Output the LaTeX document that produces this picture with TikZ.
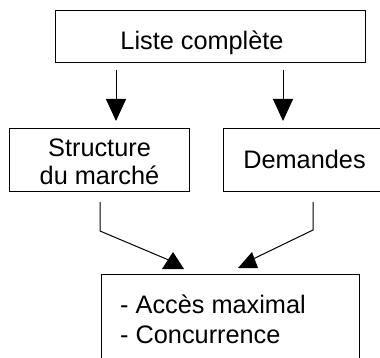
\documentclass[tikz,border=0pt]{standalone}
\usepackage{fontspec}
\setmainfont{Liberation Sans}
\usetikzlibrary{arrows.meta}
\begin{document}
\begin{tikzpicture}[x=1pt,y=-1pt,
  box/.style={draw=black,line width=1pt,rectangle,inner sep=0pt,anchor=north west},
  txt/.style={font=\fontsize{25.3}{28}\selectfont,inner sep=0pt},
  conn/.style={line width=1pt},
  arr/.style={conn,-{Triangle[width=20pt,length=22pt]}},
  head/.style={fill=black}]
\useasboundingbox (0,0) rectangle (380,358);
\fill[white] (0,0) rectangle (380,358);
% boxes
\node[box,minimum width=310pt,minimum height=52pt] (top) at (55,10) {};
\node[box,minimum width=180pt,minimum height=63pt] (struct) at (9,128) {};
\node[box,minimum width=163pt,minimum height=63pt] (dem) at (223,128) {};
\node[box,minimum width=258pt,minimum height=120pt] (res) at (101,274) {};
% texts
\node[txt,anchor=base] (ttop) at (202,50) {Liste complète};
\node[txt,anchor=base,align=center] (tstruct) at (99.5,185) {Structure\\du marché};
\node[txt,anchor=base] (tdem) at (304.5,169) {Demandes};
\node[txt,anchor=base west,align=left,font=\fontsize{25.3}{30}\selectfont] (tres) at (120,343) {- Accès maximal\\- Concurrence};
% top arrows
\coordinate (xa) at (116,0);
\coordinate (xb) at (283,0);
\draw[arr,shorten <=7pt,shorten >=7pt] (top.south -| xa) -- (struct.north -| xa);
\draw[arr,shorten <=7pt,shorten >=7pt] (top.south -| xb) -- (dem.north -| xb);
% bottom connectors
\coordinate (lb) at (100,231);
\coordinate (le) at (171,261);
\coordinate (rb) at (313,230);
\coordinate (re) at (251,260);
\draw[conn,shorten <=10pt] (struct.south -| lb) -- (lb) -- (le);
\draw[conn,shorten <=10pt] (dem.south -| rb) -- (rb) -- (re);
\fill[head] (162,269) -- (184,269) -- (173,252) -- cycle;
\fill[head] (238,268) -- (258,268) -- (252,252) -- cycle;
\end{tikzpicture}
\end{document}
